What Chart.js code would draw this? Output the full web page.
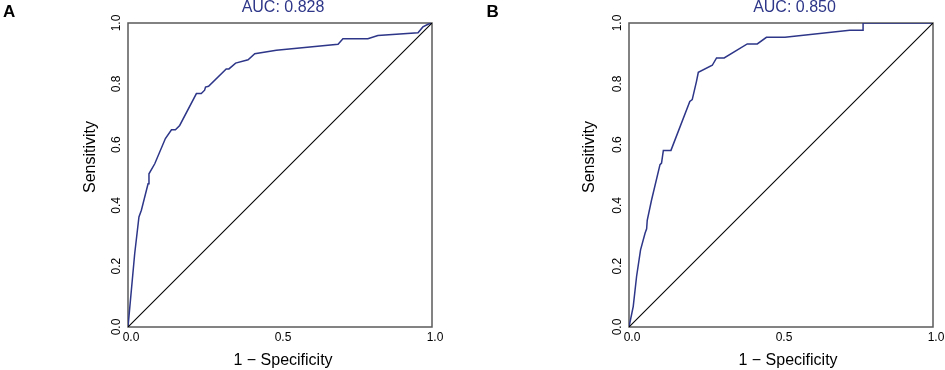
<!DOCTYPE html>
<html lang="en">
<head>
    <meta charset="UTF-8">
    <title>ROC curves</title>
    <script src="https://cdn.jsdelivr.net/npm/chart.js"></script>
    <style>
        body {
            margin: 0;
            background: #fff;
        }
        #wrap {
            position: relative;
            width: 945px;
            height: 370px;
            overflow: hidden;
        }
        .panel {
            position: absolute;
            top: 0;
            height: 370px;
        }
        #panelA { left: 0; width: 470px; }
        #panelB { left: 470px; width: 475px; }
    </style>
</head>
<body>
    <div id="wrap">
        <div class="panel" id="panelA"><canvas id="rocA"></canvas></div>
        <div class="panel" id="panelB"><canvas id="rocB"></canvas></div>
    </div>

    <script>
        // panel A: 1 - specificity / sensitivity
        const fprA = [0, 0.022, 0.036, 0.044, 0.066, 0.069, 0.088, 0.123, 0.143, 0.156, 0.170, 0.225, 0.241, 0.252, 0.255, 0.265, 0.323, 0.332, 0.354, 0.395, 0.417, 0.488, 0.691, 0.707, 0.789, 0.822, 0.954, 0.970, 0.987, 1];
        const tprA = [0, 0.241, 0.362, 0.384, 0.471, 0.504, 0.537, 0.620, 0.649, 0.649, 0.663, 0.768, 0.768, 0.779, 0.789, 0.792, 0.849, 0.849, 0.868, 0.879, 0.899, 0.910, 0.930, 0.948, 0.948, 0.959, 0.968, 0.987, 0.996, 1];
        const aucA = 'AUC: 0.828';

        // panel B
        const fprB = [0, 0.014, 0.025, 0.038, 0.053, 0.058, 0.060, 0.074, 0.102, 0.107, 0.113, 0.138, 0.200, 0.208, 0.222, 0.228, 0.274, 0.288, 0.313, 0.389, 0.422, 0.452, 0.513, 0.726, 0.770, 0.770, 1];
        const tprB = [0, 0.068, 0.167, 0.254, 0.309, 0.323, 0.351, 0.417, 0.534, 0.539, 0.581, 0.581, 0.742, 0.748, 0.808, 0.838, 0.861, 0.885, 0.885, 0.931, 0.931, 0.953, 0.953, 0.976, 0.976, 1, 1];
        const aucB = 'AUC: 0.850';

        // reference line
        const diagX = [0, 1];
        const diagY = [0, 1];

        const xTicks = [0, 0.5, 1];
        const yTicks = [0, 0.2, 0.4, 0.6, 0.8, 1];
        const xTitle = '1 \u2212 Specificity';
        const yTitle = 'Sensitivity';

        const FONT = "'Liberation Sans', Arial, sans-serif";
        const NAVY = '#2d3688';

        function toPoints(xs, ys) {
            return xs.map((x, i) => ({ x: x, y: ys[i] }));
        }

        function makeRoc(canvasId, fpr, tpr, auc, o) {
            const panelText = {
                id: 'panelText',
                beforeDatasetsDraw(chart) {
                    const { ctx, chartArea: a } = chart;
                    ctx.save();
                    ctx.strokeStyle = '#5a5a5a';
                    ctx.lineWidth = 1.5;
                    ctx.strokeRect(a.left, a.top, a.right - a.left, a.bottom - a.top);
                    ctx.restore();
                },
                afterDraw(chart) {
                    const { ctx, chartArea: a } = chart;
                    const yScale = chart.scales.y;
                    ctx.save();
                    ctx.fillStyle = '#000';

                    // rotated y tick labels
                    ctx.font = '12px ' + FONT;
                    ctx.textAlign = 'center';
                    ctx.textBaseline = 'alphabetic';
                    yTicks.forEach(v => {
                        const py = yScale.getPixelForValue(v);
                        ctx.save();
                        ctx.translate(a.left - 8.5, py);
                        ctx.rotate(-Math.PI / 2);
                        ctx.fillText(v.toFixed(1), 0, 0);
                        ctx.restore();
                    });

                    // axis titles
                    ctx.font = '16px ' + FONT;
                    ctx.fillText(xTitle, o.xTitleX, 365);
                    ctx.save();
                    ctx.translate(o.yTitleX, 157);
                    ctx.rotate(-Math.PI / 2);
                    ctx.fillText(yTitle, 0, 0);
                    ctx.restore();

                    // AUC title
                    ctx.fillStyle = NAVY;
                    ctx.fillText(auc, o.aucX, 12);

                    // panel letter
                    ctx.fillStyle = '#000';
                    ctx.font = 'bold 17px ' + FONT;
                    ctx.textAlign = 'left';
                    ctx.fillText(o.letter, o.letterX, 16.5);
                    ctx.restore();
                }
            };

            return new Chart(document.getElementById(canvasId), {
                type: 'line',
                data: {
                    datasets: [
                        {
                            data: toPoints(diagX, diagY),
                            borderColor: '#000',
                            borderWidth: 1.1,
                            pointRadius: 0,
                            tension: 0
                        },
                        {
                            data: toPoints(fpr, tpr),
                            borderColor: NAVY,
                            borderWidth: 1.5,
                            pointRadius: 0,
                            tension: 0
                        }
                    ]
                },
                options: {
                    responsive: true,
                    maintainAspectRatio: false,
                    animation: false,
                    layout: {
                        padding: { left: 0, right: o.padRight, top: 23, bottom: 0 }
                    },
                    plugins: {
                        legend: { display: false },
                        tooltip: { enabled: false }
                    },
                    scales: {
                        x: {
                            type: 'linear',
                            min: 0,
                            max: 1,
                            grid: { display: false, drawTicks: false },
                            border: { display: false },
                            afterBuildTicks: scale => {
                                scale.ticks = xTicks.map(v => ({ value: v }));
                            },
                            afterFit: scale => { scale.height = 43; },
                            ticks: {
                                padding: 3,
                                labelOffset: 3,
                                maxRotation: 0,
                                color: '#000',
                                font: { family: FONT, size: 12 },
                                callback: v => v.toFixed(1)
                            }
                        },
                        y: {
                            type: 'linear',
                            min: 0,
                            max: 1,
                            grid: { display: false, drawTicks: false },
                            border: { display: false },
                            ticks: { display: false },
                            afterFit: scale => { scale.width = o.axisWidth; }
                        }
                    }
                },
                plugins: [panelText]
            });
        }

        makeRoc('rocA', fprA, tprA, aucA, {
            padRight: 38, axisWidth: 128,
            xTitleX: 283, yTitleX: 94.5, aucX: 283, letter: 'A', letterX: 3
        });
        makeRoc('rocB', fprB, tprB, aucB, {
            padRight: 12, axisWidth: 159,
            xTitleX: 318, yTitleX: 124, aucX: 324.5, letter: 'B', letterX: 16.5
        });
    </script>
</body>
</html>
